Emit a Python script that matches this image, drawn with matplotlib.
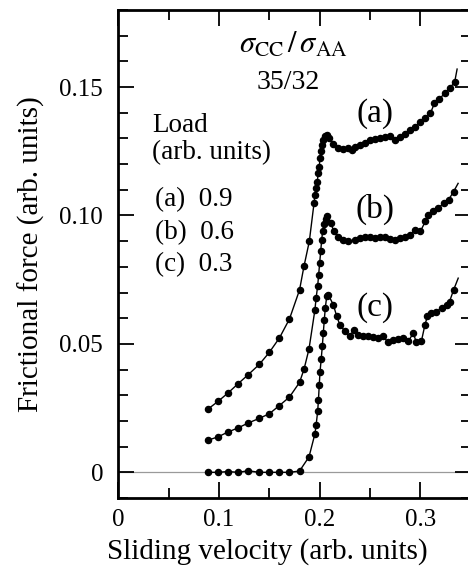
import matplotlib
matplotlib.use("Agg")
import matplotlib.pyplot as plt
from matplotlib.ticker import MultipleLocator, FixedLocator, FixedFormatter

plt.rcParams['font.family'] = ['Liberation Serif', 'DejaVu Serif']
plt.rcParams['mathtext.fontset'] = 'stix'

# ---- data ----
xa = [0.089, 0.099, 0.109, 0.119, 0.129, 0.140, 0.150, 0.160, 0.170, 0.180, 0.1844, 0.1897,
      0.1944, 0.1953, 0.1963, 0.1976, 0.1986, 0.1996, 0.2003, 0.2013, 0.2023, 0.2036, 0.2053,
      0.207, 0.2096, 0.2135, 0.218, 0.2234, 0.228, 0.232, 0.235, 0.240, 0.245, 0.250, 0.255,
      0.260, 0.265, 0.270, 0.275, 0.280, 0.285, 0.290, 0.295, 0.300, 0.305, 0.310, 0.314,
      0.319, 0.324, 0.329, 0.334, 0.3365]
ya = [0.0246, 0.0276, 0.0309, 0.0345, 0.0380, 0.0420, 0.0467, 0.0523, 0.0597, 0.0710, 0.0802, 0.0899,
      0.1048, 0.1080, 0.1107, 0.1132, 0.1165, 0.1190, 0.1223, 0.1250, 0.1275, 0.1294, 0.1310,
      0.1314, 0.1301, 0.1277, 0.1264, 0.1258, 0.1262, 0.1256, 0.1266, 0.1275, 0.1284, 0.1295, 0.1298,
      0.1301, 0.1305, 0.1310, 0.1294, 0.1307, 0.1318, 0.1331, 0.1346, 0.1362, 0.1379, 0.1398, 0.1437,
      0.1453, 0.1476, 0.1496, 0.1518, 0.1570]

xb = [0.089, 0.099, 0.109, 0.119, 0.129, 0.140, 0.150, 0.160, 0.170, 0.180, 0.1845, 0.1894,
      0.1953, 0.1965, 0.198, 0.199, 0.200, 0.201, 0.202, 0.203, 0.2045, 0.206, 0.2076,
      0.211, 0.2142, 0.2185, 0.2234, 0.228, 0.235, 0.240, 0.245, 0.250, 0.255, 0.260, 0.265,
      0.270, 0.275, 0.280, 0.285, 0.290, 0.295, 0.300, 0.305, 0.308, 0.313, 0.318, 0.323,
      0.328, 0.333, 0.3375]
yb = [0.0125, 0.0138, 0.0157, 0.0173, 0.0192, 0.0210, 0.0228, 0.0260, 0.0293, 0.0350, 0.0402, 0.0480,
      0.0633, 0.0680, 0.0725, 0.0770, 0.0815, 0.0860, 0.0905, 0.0940, 0.0965, 0.0985, 0.0999,
      0.0970, 0.0938, 0.0918, 0.0905, 0.0899, 0.0905, 0.0912, 0.0916, 0.0918, 0.0912, 0.0916, 0.0916,
      0.0908, 0.0903, 0.0912, 0.0918, 0.0925, 0.0944, 0.0938, 0.0977, 0.1003, 0.1016, 0.1029, 0.1048,
      0.1061, 0.1093, 0.1125]

xc = [0.089, 0.099, 0.109, 0.119, 0.129, 0.140, 0.150, 0.160, 0.170, 0.180, 0.1894,
      0.1953, 0.1965, 0.198, 0.1988, 0.1996, 0.2003, 0.2015, 0.2026, 0.2036, 0.2046, 0.2056,
      0.207, 0.2086, 0.2135, 0.217, 0.220, 0.225, 0.230, 0.234, 0.238, 0.243, 0.248, 0.253,
      0.258, 0.263, 0.268, 0.273, 0.278, 0.283, 0.288, 0.293, 0.296, 0.301, 0.3046, 0.307,
      0.311, 0.316, 0.321, 0.326, 0.329, 0.333, 0.3376]
yc = [0.0, 0.0, 0.0003, 0.0, 0.0006, 0.0, 0.0, 0.0, 0.0, 0.0005, 0.0060,
      0.0150, 0.0185, 0.0237, 0.0283, 0.0340, 0.0389, 0.0440, 0.0490, 0.0542, 0.0594, 0.0640,
      0.0685, 0.0691, 0.0653, 0.0607, 0.0575, 0.0549, 0.0529, 0.0555, 0.0536, 0.0529, 0.0532, 0.0527,
      0.0523, 0.0529, 0.0506, 0.0514, 0.0519, 0.0523, 0.0510, 0.0542, 0.0506, 0.0510, 0.0575, 0.0607,
      0.0620, 0.0626, 0.0640, 0.0653, 0.0665, 0.0710, 0.0756]

curve_labels = ["(a)", "(b)", "(c)"]
loads = ["0.9", "0.6", "0.3"]
xticks = [0, 0.1, 0.2, 0.3]
xticklabels = ["0", "0.1", "0.2", "0.3"]
yticks = [0, 0.05, 0.10, 0.15]
yticklabels = ["0", "0.05", "0.10", "0.15"]

# ---- figure ----
W, H = 468, 568
fig = plt.figure(figsize=(W / 100, H / 100), dpi=100)
ax = fig.add_axes([118.3 / W, 70 / H, 352.4 / W, 488 / H])
ax.set_xlim(0, 0.35)
ax.set_ylim(-0.01, 0.18)

ax.axhline(0, color='#9a9a9a', lw=0.9, zorder=1)

for xs, ys in [(xa, ya), (xb, yb), (xc, yc)]:
    ax.plot(xs, ys, color='black', lw=1.0, marker='o', ms=4.4,
            markevery=list(range(len(xs) - 1)), zorder=3)

for sp in ax.spines.values():
    sp.set_linewidth(2.0)

ax.xaxis.set_major_locator(FixedLocator(xticks))
ax.xaxis.set_major_formatter(FixedFormatter(xticklabels))
ax.xaxis.set_minor_locator(MultipleLocator(0.05))
ax.yaxis.set_major_locator(FixedLocator(yticks))
ax.yaxis.set_major_formatter(FixedFormatter(yticklabels))
ax.yaxis.set_minor_locator(MultipleLocator(0.01))
ax.tick_params(which='both', direction='in', top=True, right=True, width=1.3, labelsize=18)
ax.tick_params(which='major', length=11.5)
ax.tick_params(which='minor', length=7)
ax.tick_params(axis='x', which='major', pad=8)
ax.tick_params(axis='y', which='major', pad=11)

ax.set_ylabel("Frictional force (arb. units)", fontsize=21, labelpad=10)
fig.text(267.5 / W, 1 - 552 / H, "Sliding velocity (arb. units)", fontsize=21,
         ha='center', va='center')

ax.text(0.1735, 0.1664, r'$\sigma_{\mathrm{CC}}\,/\,\sigma_{\mathrm{AA}}$', fontsize=22,
        ha='center', va='center')
ax.text(0.1686, 0.1516, "35/32", fontsize=20, ha='center', va='center')
ax.text(0.0335, 0.1352, "Load", fontsize=19.5, ha='left', va='center')
ax.text(0.0335, 0.1243, "(arb. units)", fontsize=19.5, ha='left', va='center')
for i, (lab, ld) in enumerate(zip(curve_labels, loads)):
    ax.text(0.0367, 0.106 - i * 0.0126, f"{lab}  {ld}", fontsize=19.5, ha='left', va='center')

for lab, yy in zip(curve_labels, [0.1395, 0.1022, 0.0641]):
    ax.text(0.2549, yy, lab, fontsize=24, ha='center', va='center')

fig.savefig("out.png", dpi=100)
